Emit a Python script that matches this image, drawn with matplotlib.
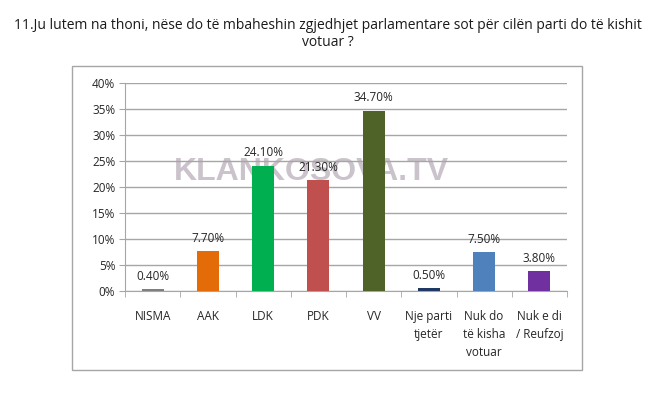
import numpy as np
import matplotlib.pyplot as plt
from matplotlib.patches import Rectangle

categories = ['NISMA', 'AAK', 'LDK', 'PDK', 'VV', 'Nje parti\ntjetër',
              'Nuk do\ntë kisha\nvotuar', 'Nuk e di\n/ Reufzoj']
values = [0.40, 7.70, 24.10, 21.30, 34.70, 0.50, 7.50, 3.80]
colors = ['#7f7f7f', '#e36c09', '#00b050', '#c0504d', '#4f6228',
          '#1f3864', '#4f81bd', '#7030a0']
title = '11.Ju lutem na thoni, nëse do të mbaheshin zgjedhjet parlamentare sot për cilën parti do të kishit\nvotuar ?'

plt.rcParams['font.family'] = ['Open Sans', 'DejaVu Sans']

fig = plt.figure(figsize=(6.56, 3.99), dpi=100)
W, H = 656, 399

# outer chart frame
fig.patches.append(Rectangle((72 / W, 1 - 370 / H), (582 - 72) / W, (370 - 66) / H,
                             transform=fig.transFigure, fill=False,
                             edgecolor='#a6a6a6', linewidth=1.0))

fig.text(0.5, 1 - 34 / H, title, ha='center', va='center', fontsize=10,
         linespacing=1.2, color='#1a1a1a')

# watermark sits behind the chart
fig.text(311 / W, 1 - 172 / H, 'KLANKOSOVA.TV', ha='center', va='center',
         fontsize=23, fontweight='bold', family='Liberation Sans',
         color='#cbc3cb', zorder=-1)

ax = fig.add_axes([125 / W, 1 - 291 / H, (567 - 125) / W, (291 - 83) / H])
ax.patch.set_visible(False)
x = np.arange(len(categories))
ax.bar(x, values, width=0.4, color=colors, zorder=3)
for xi, v in zip(x, values):
    ax.text(xi, v + 1.2, f'{v:.2f}%', ha='center', va='bottom', fontsize=8.5,
            color='#262626', zorder=4)

ax.set_xlim(-0.5, len(categories) - 0.5)
ax.set_ylim(0, 40)
ax.set_yticks(np.arange(0, 41, 5))
ax.set_yticklabels([f'{t}%' for t in range(0, 41, 5)], fontsize=8.5, color='#262626')
ax.yaxis.grid(True, color='#a6a6a6', linewidth=1.0, zorder=0)
ax.set_xticks(x)
ax.set_xticklabels(categories, fontsize=8.5, color='#262626', va='top', linespacing=1.5)
ax.set_xticks(np.arange(-0.5, len(categories)), minor=True)
ax.tick_params(axis='x', which='major', length=0, pad=14)
ax.tick_params(axis='x', which='minor', length=4, color='#a6a6a6')
ax.tick_params(axis='y', length=4, color='#a6a6a6', pad=3)
for s in ['top', 'right']:
    ax.spines[s].set_visible(False)
for s in ['left', 'bottom']:
    ax.spines[s].set_color('#a6a6a6')

fig.savefig('out.png', dpi=100)
